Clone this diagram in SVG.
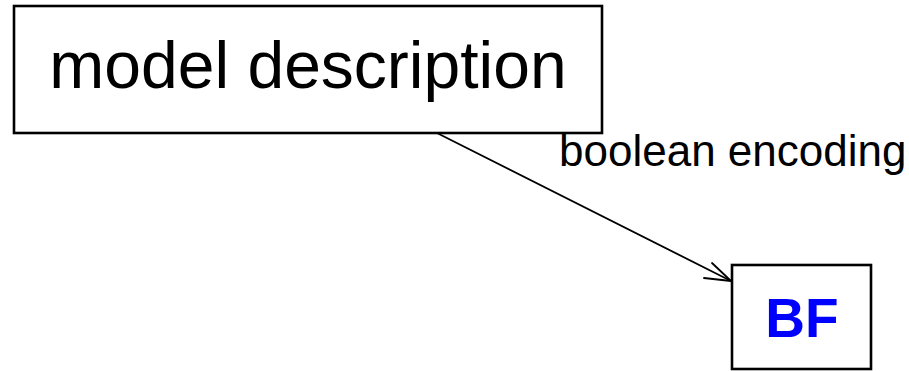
<svg xmlns="http://www.w3.org/2000/svg" width="909" height="371" viewBox="0 0 909 371">
  <style>
    .box { fill: #ffffff; stroke: #000000; stroke-width: 2.6; }
    .edge { fill: none; stroke: #000000; stroke-width: 1.8; stroke-linecap: round; stroke-linejoin: round; }
    .txt { font-family: "Liberation Sans", Arial, sans-serif; fill: #000000; }
  </style>
  <rect width="909" height="371" fill="#ffffff"/>
  <g id="connectors">
    <path class="edge" d="M437,133 L731,281"/>
    <path class="edge" d="M704,278 L731,281 L712,263"/>
    <text class="txt" x="559" y="166" font-size="44">boolean encoding</text>
  </g>
  <g id="node-model">
    <rect class="box" x="14" y="6" width="588" height="127"/>
    <text class="txt" x="308" y="88" font-size="66" text-anchor="middle">model description</text>
  </g>
  <g id="node-bf">
    <rect class="box" x="732" y="265" width="139" height="104"/>
    <text class="txt" x="802" y="337" font-size="55" font-weight="bold" text-anchor="middle" style="fill:#0000ff">BF</text>
  </g>
</svg>
